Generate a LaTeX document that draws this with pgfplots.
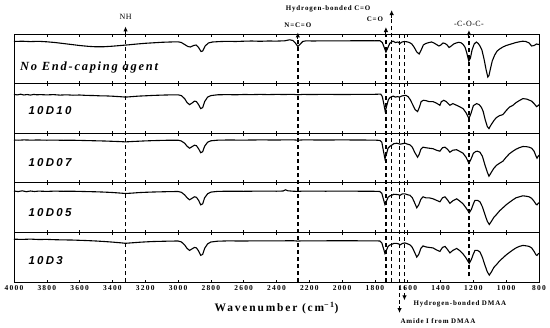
\documentclass[border=0pt]{standalone}
\usepackage{pgfplots}
\usepackage{pgfplotstable}
\pgfplotsset{compat=1.18}
\usepackage{fontspec}
\setmainfont{Liberation Serif}
\newfontfamily\tickfam[LetterSpace=16]{Liberation Serif}
\newfontfamily\annfam[LetterSpace=12]{Liberation Serif}
\newfontfamily\annregfam[LetterSpace=6]{Liberation Serif}
\newfontfamily\panserif[LetterSpace=14]{Liberation Serif}
\newfontfamily\pansans[LetterSpace=20]{Liberation Sans}
\usetikzlibrary{arrows.meta}

% depth of the trace below each panel's top edge (arbitrary units)
\pgfplotstableread[row sep=\\]{wn d\\
4000 7.5\\ 3950 7.2\\ 3900 7.6\\ 3850 7.3\\ 3800 7.8\\ 3750 8.5\\ 3700 9.5\\ 3650 10.5\\ 3600 11.5\\ 3550 12.3\\ 3500 12.8\\ 3450 12.7\\ 3400 12.2\\ 3350 11.5\\ 3300 10.8\\ 3250 10.0\\ 3200 9.3\\ 3150 8.8\\ 3100 8.3\\ 3050 8.0\\ 3000 7.8\\
2980 8.5\\ 2960 10.5\\ 2940 12.5\\ 2925 13.0\\ 2905 11.5\\ 2890 11.0\\ 2875 13.5\\ 2860 17.5\\ 2850 17.0\\ 2835 12.0\\ 2815 9.0\\ 2790 8.0\\ 2750 7.6\\ 2700 7.3\\ 2650 7.5\\ 2600 7.2\\ 2550 7.0\\ 2500 7.3\\ 2450 7.0\\ 2400 7.1\\ 2350 6.8\\ 2320 5.8\\ 2300 6.5\\ 2285 9.0\\ 2270 12.5\\ 2255 10.0\\ 2240 7.5\\ 2220 6.8\\ 2180 7.0\\ 2100 6.8\\ 2000 6.9\\ 1900 6.7\\ 1800 6.8\\ 1770 6.7\\
1755 8.5\\ 1742 14.0\\ 1733 18.0\\ 1722 14.0\\ 1710 9.5\\ 1700 8.0\\ 1690 7.2\\ 1675 8.5\\ 1660 8.0\\ 1648 9.5\\ 1635 8.0\\ 1620 7.5\\ 1605 7.8\\ 1590 8.5\\ 1575 10.0\\ 1560 13.5\\ 1545 18.0\\ 1530 20.0\\ 1518 16.0\\ 1505 11.0\\ 1490 9.5\\ 1470 8.5\\ 1455 8.0\\ 1440 9.0\\ 1425 10.5\\ 1410 12.0\\ 1398 11.0\\ 1385 9.0\\ 1372 9.5\\ 1360 11.0\\ 1348 13.5\\ 1335 12.0\\ 1320 10.0\\ 1305 9.0\\ 1290 8.3\\ 1275 8.8\\ 1262 10.5\\ 1250 13.5\\ 1240 19.0\\ 1228 27.0\\ 1218 24.0\\ 1208 16.0\\ 1195 10.0\\ 1182 8.0\\ 1170 9.5\\ 1160 12.0\\ 1148 16.0\\ 1135 25.0\\ 1122 36.0\\ 1112 43.0\\ 1105 41.5\\ 1095 34.0\\ 1085 27.0\\ 1070 21.0\\ 1055 17.0\\ 1040 15.0\\ 1020 13.0\\ 1000 11.5\\ 980 10.5\\ 960 9.5\\ 940 8.5\\ 920 7.8\\ 900 7.2\\ 880 7.5\\ 860 9.0\\ 845 12.0\\ 830 11.5\\ 815 10.0\\ 800 10.5\\
}\tabA

\pgfplotstableread[row sep=\\]{wn d\\
4000 10.8\\ 3980 11.3\\ 3960 10.6\\ 3940 11.4\\ 3920 10.9\\ 3900 11.5\\ 3880 10.8\\ 3860 11.2\\ 3840 11.0\\ 3800 11.3\\ 3760 11.0\\ 3720 11.5\\ 3680 11.2\\ 3640 11.6\\ 3600 11.4\\ 3560 11.8\\ 3520 11.9\\ 3480 12.2\\ 3440 12.3\\ 3400 12.6\\ 3360 13.0\\ 3320 13.5\\ 3280 13.0\\ 3240 12.5\\ 3200 12.2\\ 3150 11.8\\ 3100 11.5\\ 3050 11.3\\ 3000 11.2\\
2980 12.0\\ 2960 15.0\\ 2945 19.0\\ 2930 21.0\\ 2915 19.5\\ 2900 17.5\\ 2888 18.0\\ 2875 21.0\\ 2862 25.0\\ 2850 24.0\\ 2838 18.0\\ 2820 13.5\\ 2800 12.0\\ 2760 11.2\\ 2700 11.0\\ 2650 11.2\\ 2600 10.9\\ 2550 11.0\\ 2500 10.8\\ 2450 11.0\\ 2400 10.8\\ 2350 10.9\\ 2300 10.7\\ 2270 11.2\\ 2240 10.8\\ 2200 10.9\\ 2100 10.8\\ 2000 10.9\\ 1900 10.8\\ 1800 10.7\\ 1765 10.5\\
1755 13\\ 1745 21\\ 1737 28\\ 1728 22\\ 1718 16\\ 1708 14\\ 1698 13\\ 1688 12.5\\ 1675 13.5\\ 1662 13\\ 1650 13.5\\ 1638 12.5\\ 1625 12\\ 1612 11.7\\ 1598 13\\ 1585 16\\ 1570 21\\ 1555 26\\ 1540 28\\ 1530 24\\ 1518 18\\ 1505 16.7\\ 1490 17\\ 1470 18\\ 1446 18\\ 1425 19.5\\ 1404 21.7\\ 1395 18\\ 1380 16.7\\ 1365 18\\ 1343 21.7\\ 1325 20\\ 1302 21.7\\ 1285 23\\ 1263 25\\ 1245 29\\ 1227 35\\ 1215 30\\ 1200 22\\ 1180 20\\ 1165 21\\ 1150 24\\ 1140 28\\ 1128 36\\ 1115 43\\ 1105 45\\ 1095 42\\ 1075 37\\ 1060 34\\ 1040 32\\ 1020 31\\ 1000 27\\ 980 23.5\\ 959 21.7\\ 940 19\\ 920 17\\ 898 15\\ 875 15.5\\ 860 16.5\\ 845 17.5\\ 830 20\\ 815 23\\ 805 22\\ 800 21\\
}\tabB

\pgfplotstableread[row sep=\\]{wn d\\
4000 6.8\\ 3970 7.0\\ 3940 6.7\\ 3900 6.9\\ 3850 6.8\\ 3800 7.0\\ 3750 6.9\\ 3700 7.1\\ 3650 7.0\\ 3600 7.2\\ 3550 7.4\\ 3500 7.6\\ 3450 7.8\\ 3400 8.1\\ 3350 8.4\\ 3320 8.7\\ 3280 8.3\\ 3240 8.0\\ 3200 7.7\\ 3150 7.4\\ 3100 7.2\\ 3050 7.0\\ 3000 7.0\\
2980 7.8\\ 2960 10.0\\ 2945 13.0\\ 2930 15.0\\ 2915 13.5\\ 2900 12.0\\ 2888 12.5\\ 2875 15.5\\ 2862 19.5\\ 2850 18.5\\ 2838 13.0\\ 2820 9.0\\ 2800 7.6\\ 2760 7.0\\ 2700 6.8\\ 2600 6.9\\ 2500 6.7\\ 2400 6.8\\ 2300 6.6\\ 2270 7.0\\ 2240 6.7\\ 2100 6.8\\ 2000 6.7\\ 1900 6.8\\ 1800 6.9\\ 1770 7.2\\
1758 9\\ 1748 18\\ 1739 25.5\\ 1730 21\\ 1720 15\\ 1708 13\\ 1698 12\\ 1685 10.5\\ 1667 10\\ 1655 10.5\\ 1647 11\\ 1632 10.5\\ 1617 10\\ 1600 11\\ 1586 11.7\\ 1572 14\\ 1558 19\\ 1540 24\\ 1530 21\\ 1520 16\\ 1507 14\\ 1490 14.5\\ 1470 15\\ 1446 15.5\\ 1425 17\\ 1404 18\\ 1388 14.5\\ 1373 14\\ 1358 16\\ 1343 19\\ 1325 17\\ 1302 16.5\\ 1285 18\\ 1263 20\\ 1245 24\\ 1227 30\\ 1212 25\\ 1200 20\\ 1185 18.3\\ 1175 18\\ 1160 19\\ 1145 23\\ 1129 32\\ 1115 39\\ 1105 43\\ 1090 39\\ 1075 35\\ 1058 32\\ 1040 30\\ 1020 28\\ 1000 24\\ 980 20.5\\ 959 18\\ 940 16\\ 920 14.5\\ 898 13.3\\ 875 13.5\\ 860 14\\ 845 15\\ 830 18\\ 818 23\\ 812 25\\ 805 23\\ 800 22\\
}\tabC

\pgfplotstableread[row sep=\\]{wn d\\
4000 8.2\\ 3975 8.8\\ 3950 8.0\\ 3925 8.9\\ 3900 8.2\\ 3875 8.7\\ 3850 8.3\\ 3800 8.6\\ 3750 8.3\\ 3700 8.5\\ 3650 8.4\\ 3600 8.6\\ 3550 8.8\\ 3500 9.0\\ 3450 9.3\\ 3400 9.7\\ 3350 10.3\\ 3320 10.7\\ 3280 10.3\\ 3240 9.8\\ 3200 9.5\\ 3150 9.2\\ 3100 9.0\\ 3050 8.8\\ 3000 8.7\\
2980 9.5\\ 2960 12.0\\ 2945 15.0\\ 2930 17.0\\ 2915 15.5\\ 2900 14.0\\ 2888 14.5\\ 2875 17.5\\ 2862 22.0\\ 2850 21.0\\ 2838 15.0\\ 2820 11.0\\ 2800 9.3\\ 2760 8.6\\ 2700 8.4\\ 2600 8.5\\ 2500 8.3\\ 2400 8.4\\ 2360 8.2\\ 2345 7.0\\ 2330 8.0\\ 2300 8.4\\ 2270 8.6\\ 2240 8.3\\ 2100 8.4\\ 2000 8.3\\ 1900 8.4\\ 1800 8.5\\ 1770 8.7\\
1758 10.5\\ 1748 16.5\\ 1739 21.7\\ 1730 18.5\\ 1720 14.5\\ 1708 13\\ 1698 12.5\\ 1685 11.5\\ 1667 11.7\\ 1655 12\\ 1647 12.5\\ 1632 11\\ 1617 11\\ 1600 12\\ 1586 12.5\\ 1572 15\\ 1558 20\\ 1545 25\\ 1533 22\\ 1520 16.5\\ 1507 14\\ 1490 15\\ 1470 15\\ 1446 16\\ 1425 17.5\\ 1404 19\\ 1388 15\\ 1373 14\\ 1358 17\\ 1343 20.5\\ 1325 18\\ 1302 16\\ 1285 18\\ 1263 21\\ 1245 25\\ 1225 30\\ 1212 26.5\\ 1200 21\\ 1190 17.5\\ 1175 17.5\\ 1160 19\\ 1145 24\\ 1129 32\\ 1115 38.5\\ 1103 41.7\\ 1090 38.5\\ 1075 34.5\\ 1058 31.5\\ 1040 28\\ 1020 25\\ 1000 22\\ 980 19.5\\ 959 17\\ 940 15\\ 920 14\\ 898 13\\ 875 13.5\\ 860 14\\ 845 15.5\\ 830 18.5\\ 818 21.5\\ 812 22\\ 805 20.5\\ 800 20\\
}\tabD

\pgfplotstableread[row sep=\\]{wn d\\
4000 6.8\\ 3950 7.0\\ 3900 6.7\\ 3850 7.1\\ 3800 7.0\\ 3750 7.3\\ 3700 7.5\\ 3650 7.6\\ 3600 7.9\\ 3550 8.2\\ 3500 8.6\\ 3450 9.1\\ 3400 9.7\\ 3350 10.4\\ 3320 10.9\\ 3280 10.4\\ 3240 9.9\\ 3200 9.5\\ 3150 9.1\\ 3100 8.9\\ 3050 8.7\\ 3000 8.6\\
2980 9.5\\ 2960 12.5\\ 2945 16.0\\ 2930 18.0\\ 2915 16.5\\ 2900 15.0\\ 2888 15.5\\ 2875 18.5\\ 2862 23.0\\ 2850 22.0\\ 2838 16.0\\ 2820 11.5\\ 2800 9.6\\ 2760 8.8\\ 2700 8.5\\ 2600 8.6\\ 2500 8.4\\ 2400 8.5\\ 2300 8.3\\ 2270 8.7\\ 2240 8.4\\ 2100 8.4\\ 2000 8.3\\ 1900 8.4\\ 1800 8.4\\ 1770 8.6\\
1758 10.5\\ 1748 16\\ 1739 21\\ 1730 18\\ 1720 14\\ 1708 12.5\\ 1698 12\\ 1685 11\\ 1667 11\\ 1655 11.5\\ 1647 12.5\\ 1632 11\\ 1617 10.5\\ 1600 11.5\\ 1586 12.5\\ 1572 15\\ 1558 20\\ 1545 24.7\\ 1533 22\\ 1520 16\\ 1507 13.5\\ 1490 14.5\\ 1470 15\\ 1446 15.5\\ 1425 17.5\\ 1404 19\\ 1388 15\\ 1373 14\\ 1358 17\\ 1343 20.5\\ 1325 18\\ 1302 16\\ 1285 18\\ 1263 21.5\\ 1245 25.5\\ 1225 31\\ 1212 27\\ 1200 21.5\\ 1190 18\\ 1175 18\\ 1160 19.5\\ 1145 25\\ 1129 33\\ 1115 39.5\\ 1103 42.7\\ 1090 39.5\\ 1075 35\\ 1058 32\\ 1040 28.5\\ 1020 25.5\\ 1000 22.5\\ 980 20\\ 959 17.5\\ 940 15.5\\ 920 14\\ 898 13\\ 875 13.5\\ 860 14\\ 845 15.5\\ 830 19\\ 818 22.5\\ 812 23\\ 805 21.5\\ 800 21\\
}\tabE

\pgfplotsset{
  panel/.style={
    scale only axis, width=525bp, height=49.6bp,
    anchor=south west,
    xmin=800, xmax=4000, x dir=reverse,
    ymin=0, ymax=49.6, y dir=reverse,
    ytick=\empty,
    xtick={800,1000,...,4000},
    xticklabels={},
    xtick pos=both, tick align=inside,
    major tick length=2.5bp,
    tick style={line width=0.5bp, black},
    axis line style={line width=0.7bp},
  },
  trace/.style={black, line width=1.1bp, mark=none},
}
\tikzset{
  dline/.style={black, line width=1.4bp, dash pattern=on 4bp off 3bp},
  tipup/.style={black, line width=1bp, -{Latex[length=5bp,width=4.5bp]}},
}
\newcommand\ticklab{\tickfam\bfseries\fontsize{7.5}{8}\selectfont}
\newcommand\annbold{\annfam\bfseries\fontsize{7}{7}\selectfont}
\newcommand\annreg{\annregfam\fontsize{8}{8}\selectfont}

\begin{document}
\begin{tikzpicture}
\useasboundingbox (0,0) rectangle (550bp,-328bp);

\begin{axis}[panel, at={(14bp,-83.6bp)}]
\addplot[trace] table[x=wn,y=d] {\tabA};
\node[anchor=west, font=\panserif\bfseries\itshape\fontsize{12.5}{13}\selectfont] at (axis cs:3984,33.7) {No End-caping agent};
\end{axis}

\begin{axis}[panel, at={(14bp,-133.2bp)}]
\addplot[trace] table[x=wn,y=d] {\tabB};
\node[anchor=west, font=\pansans\bfseries\itshape\fontsize{11.5}{12}\selectfont] at (axis cs:3933,27) {10D10};
\end{axis}

\begin{axis}[panel, at={(14bp,-182.8bp)}]
\addplot[trace] table[x=wn,y=d] {\tabC};
\node[anchor=west, font=\pansans\bfseries\itshape\fontsize{11.5}{12}\selectfont] at (axis cs:3933,29) {10D07};
\end{axis}

\begin{axis}[panel, at={(14bp,-232.4bp)}]
\addplot[trace] table[x=wn,y=d] {\tabD};
\node[anchor=west, font=\pansans\bfseries\itshape\fontsize{11.5}{12}\selectfont] at (axis cs:3933,29.5) {10D05};
\end{axis}

\begin{axis}[panel, at={(14bp,-282bp)}, clip=false,
  xticklabels={800,1000,1200,1400,1600,1800,2000,2200,2400,2600,2800,3000,3200,3400,3600,3800,4000},
  xticklabel style={font=\ticklab},
  xlabel={Wavenumber (cm\textsuperscript{−1})},
  xlabel style={at={(axis description cs:0.5,0)}, anchor=center, yshift=-26bp,
    font=\tickfam\bfseries\fontsize{11.5}{12}\selectfont},
]
\addplot[trace] table[x=wn,y=d] {\tabE};
\node[anchor=west, font=\pansans\bfseries\itshape\fontsize{11.5}{12}\selectfont] at (axis cs:3933,28) {10D3};

% marker lines (y = pixel row - 232.4)
\draw[dline] (axis cs:3320,49.6) -- (axis cs:3320,-199);
\draw[tipup] (axis cs:3320,-199) -- (axis cs:3320,-206);
\node[font=\annreg] at (axis cs:3320,-215.4) {NH};

\draw[dline] (axis cs:2270,49.6) -- (axis cs:2270,-193);
\draw[tipup] (axis cs:2270,-193) -- (axis cs:2270,-200);
\node[font=\annbold] at (axis cs:2270,-207.4) {N=C=O};

\draw[dline] (axis cs:1733,49.6) -- (axis cs:1733,-198);
\draw[tipup] (axis cs:1733,-198) -- (axis cs:1733,-205.4);
\node[font=\annbold] at (axis cs:1800,-213.4) {C=O};

\draw[dline] (axis cs:1698,49.6) -- (axis cs:1698,-214);
\draw[tipup] (axis cs:1698,-214) -- (axis cs:1698,-222.4);
\node[font=\annbold, anchor=east] at (axis cs:1806,-223.4) {Hydrogen-bonded C=O};

\draw[dline] (axis cs:1650,-198.4) -- (axis cs:1650,74);
\draw[tipup] (axis cs:1650,74) -- (axis cs:1650,80.6);
\node[font=\annbold] at (axis cs:1416,88.6) {Amide I from DMAA};

\draw[dline] (axis cs:1620,-198.4) -- (axis cs:1620,61.6);
\draw[tipup] (axis cs:1620,61.6) -- (axis cs:1620,68);
\node[font=\annbold, anchor=west] at (axis cs:1586,71.6) {Hydrogen-bonded DMAA};

\draw[dline] (axis cs:1227,44) -- (axis cs:1227,-196);
\draw[tipup] (axis cs:1227,-196) -- (axis cs:1227,-202.4);
\node[font=\annreg] at (axis cs:1227,-208.4) {-C-O-C-};
\end{axis}
\end{tikzpicture}
\end{document}
